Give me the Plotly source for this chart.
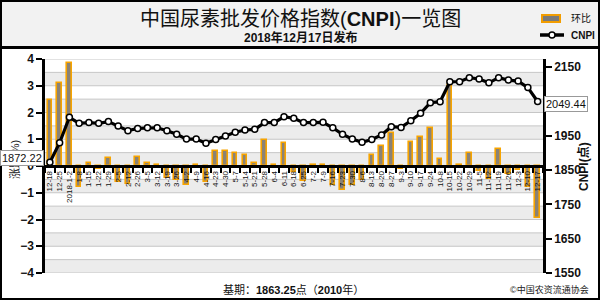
import plotly.graph_objects as go

dates = ["12-18", "12-25", "2018-1-2", "1-8", "1-15", "1-22", "1-29", "2-5", "2-12", "2-26",
         "3-5", "3-12", "3-19", "3-26", "4-2", "4-9", "4-16", "4-23", "4-30", "5-7",
         "5-14", "5-21", "5-28", "6-4", "6-11", "6-18", "6-25", "7-2", "7-9", "7-16",
         "7-23", "7-30", "8-6", "8-13", "8-20", "8-27", "9-3", "9-10", "9-17", "9-24",
         "10-8", "10-15", "10-22", "10-29", "11-5", "11-12", "11-19", "11-26", "12-3", "12-10",
         "12-17"]
cnpi = [1872.22, 1929.5, 2003.5, 1986, 1988, 1986, 1991, 1978, 1964.5, 1971,
        1973, 1973, 1964.5, 1954, 1940, 1940, 1928, 1939, 1949, 1960,
        1966.5, 1968.5, 1988, 1988, 2005, 2000.5, 1988, 1988, 1989, 1973,
        1954, 1940, 1930.5, 1939, 1952, 1976, 1974, 1993.5, 2015, 2046,
        2049, 2107, 2107, 2119, 2115, 2104, 2119, 2112, 2109, 2090,
        2049.44]
change = [2.45, 3.1, 3.86, -0.8, 0.1, -0.1, 0.3, -0.6, -0.68, 0.35,
          0.1, 0.02, -0.45, -0.53, -0.7, 0.02, -0.6, 0.55, 0.55, 0.5,
          0.42, 0.1, 0.99, 0.05, 0.85, -0.22, -0.55, 0.02, 0.05, -0.7,
          -0.9, -0.7, -0.52, 0.4, 0.75, 1.25, -0.1, 0.9, 1.1, 1.42,
          0.28, 3.02, 0.05, 0.5, -0.2, -0.5, 0.65, -0.3, -0.15, -0.8,
          -1.94]
left_ticks = [-4, -3, -2, -1, 0, 1, 2, 3, 4]
right_ticks = [1550, 1650, 1750, 1850, 1950, 2050, 2150]

FONT = "Liberation Sans, Arial, Noto Sans CJK SC, sans-serif"
W, H = 600, 300
PL, PR, PT, PB = 45, 543, 59, 273


def px(X):
    return (X - PL) / (PR - PL)


def py(Y):
    return (PB - Y) / (PB - PT)


fig = go.Figure()
fig.add_trace(go.Bar(
    x=dates, y=change, yaxis="y", name="环比", width=0.46,
    marker=dict(color="#8a8276", line=dict(color="#f7a400", width=1.6)),
))
fig.add_trace(go.Scatter(
    x=dates, y=cnpi, yaxis="y2", name="CNPI", mode="lines+markers",
    line=dict(color="black", width=3.2),
    marker=dict(size=6, color="white", line=dict(color="black", width=1.5)),
))

shapes = []
for k in range(-4, 4):
    shapes.append(dict(type="rect", xref="paper", yref="y", x0=0, x1=1, y0=k, y1=k + 0.5,
                       fillcolor="#ececec", line=dict(width=0), layer="below"))
for i in range(17):
    v = -4 + i * 0.5
    shapes.append(dict(type="line", xref="paper", yref="y", x0=0, x1=1, y0=v, y1=v,
                       line=dict(color="#c6c6c6", width=1), layer="below"))
shapes.append(dict(type="rect", xref="paper", yref="paper", x0=px(1), x1=px(599), y0=py(1), y1=py(47),
                   fillcolor="#f2f2f2", line=dict(width=0), layer="below"))
shapes.append(dict(type="line", xref="paper", yref="paper", x0=px(1), x1=px(599), y0=py(47.5), y1=py(47.5),
                   line=dict(color="black", width=3)))
shapes.append(dict(type="rect", xref="paper", yref="paper", x0=px(1), x1=px(599), y0=py(1), y1=py(299),
                   line=dict(color="black", width=2)))
shapes.append(dict(type="rect", xref="paper", yref="paper", x0=px(542), x1=px(560), y0=py(15), y1=py(22),
                   fillcolor="#7a7a7a", line=dict(color="#f29d00", width=2)))
shapes.append(dict(type="line", xref="paper", yref="paper", x0=px(540), x1=px(564), y0=py(35), y1=py(35),
                   line=dict(color="black", width=3.5)))
shapes.append(dict(type="circle", xref="paper", yref="paper", x0=px(549), x1=px(555), y0=py(32), y1=py(38),
                   fillcolor="white", line=dict(color="black", width=1.5)))

annotations = [
    dict(text="中国尿素批发价格指数(<b>CNPI</b>)一览图", x=px(300), y=py(19), xref="paper", yref="paper",
         showarrow=False, font=dict(size=20, color="#111"), xanchor="center", yanchor="middle"),
    dict(text="<b>2018年12月17日发布</b>", x=px(300), y=py(37), xref="paper", yref="paper",
         showarrow=False, font=dict(size=12, color="#111"), xanchor="center", yanchor="middle"),
    dict(text="环比", x=px(569), y=py(19), xref="paper", yref="paper",
         showarrow=False, font=dict(size=10, color="#111"), xanchor="left", yanchor="middle"),
    dict(text="<b>CNPI</b>", x=px(569), y=py(35), xref="paper", yref="paper",
         showarrow=False, font=dict(size=10, color="#111"), xanchor="left", yanchor="middle"),
    dict(text="涨跌(%)", x=px(14), y=py(160), xref="paper", yref="paper", textangle=-90,
         showarrow=False, font=dict(size=11, color="#222"), xanchor="center", yanchor="middle"),
    dict(text="<b>CNPI(点)</b>", x=px(583), y=py(167), xref="paper", yref="paper", textangle=-90,
         showarrow=False, font=dict(size=12, color="#111"), xanchor="center", yanchor="middle"),
    dict(text=f"{cnpi[0]:.2f}", x=dates[0], y=cnpi[0], xref="x", yref="y2", showarrow=False,
         xanchor="right", yanchor="middle", xshift=-6, yshift=4, bgcolor="white",
         bordercolor="#999", borderwidth=1, borderpad=1, font=dict(size=11, color="#111")),
    dict(text=f"{cnpi[-1]:.2f}", x=dates[-1], y=cnpi[-1], xref="x", yref="y2", showarrow=False,
         xanchor="left", yanchor="middle", xshift=6, yshift=-2, bgcolor="white",
         bordercolor="#999", borderwidth=1, borderpad=1, font=dict(size=11, color="#111")),
    dict(text="基期：<b>1863.25</b>点（<b>2010</b>年）", x=px(293), y=py(289), xref="paper", yref="paper",
         showarrow=False, font=dict(size=11, color="#111"), xanchor="center", yanchor="middle"),
    dict(text="©中国农资流通协会", x=px(591), y=py(289), xref="paper", yref="paper",
         showarrow=False, font=dict(size=9, color="#222"), xanchor="right", yanchor="middle"),
]

fig.update_layout(
    width=W, height=H,
    margin=dict(l=PL, r=W - PR, t=PT, b=H - PB, pad=0),
    paper_bgcolor="white", plot_bgcolor="white",
    font=dict(family=FONT, color="#111"),
    showlegend=False,
    bargap=0,
    xaxis=dict(type="category", range=[-0.5, 50.55], anchor="free", position=0.5,
               tickmode="linear", tick0=0, dtick=1,
               showline=True, linecolor="black", linewidth=2.5,
               ticks="outside", tickson="boundaries", ticklen=5, tickwidth=1.5, tickcolor="black",
               tickangle=-90, tickfont=dict(size=8, color="#111"), showgrid=False, zeroline=False),
    yaxis=dict(range=[-4, 4], tickvals=left_ticks, showline=True, linecolor="black", linewidth=2.5,
               ticks="outside", ticklen=6, tickwidth=2, tickcolor="black",
               tickfont=dict(size=12, color="#111", weight="bold"), showgrid=False, zeroline=False),
    yaxis2=dict(range=[1550, 2173.3], tickvals=right_ticks, overlaying="y", side="right",
                showline=True, linecolor="black", linewidth=2.5,
                ticks="outside", ticklen=6, tickwidth=2, tickcolor="black",
                tickfont=dict(size=12, color="#111", weight="bold"), showgrid=False, zeroline=False),
    shapes=shapes,
    annotations=annotations,
)

fig.write_html("out.html")
